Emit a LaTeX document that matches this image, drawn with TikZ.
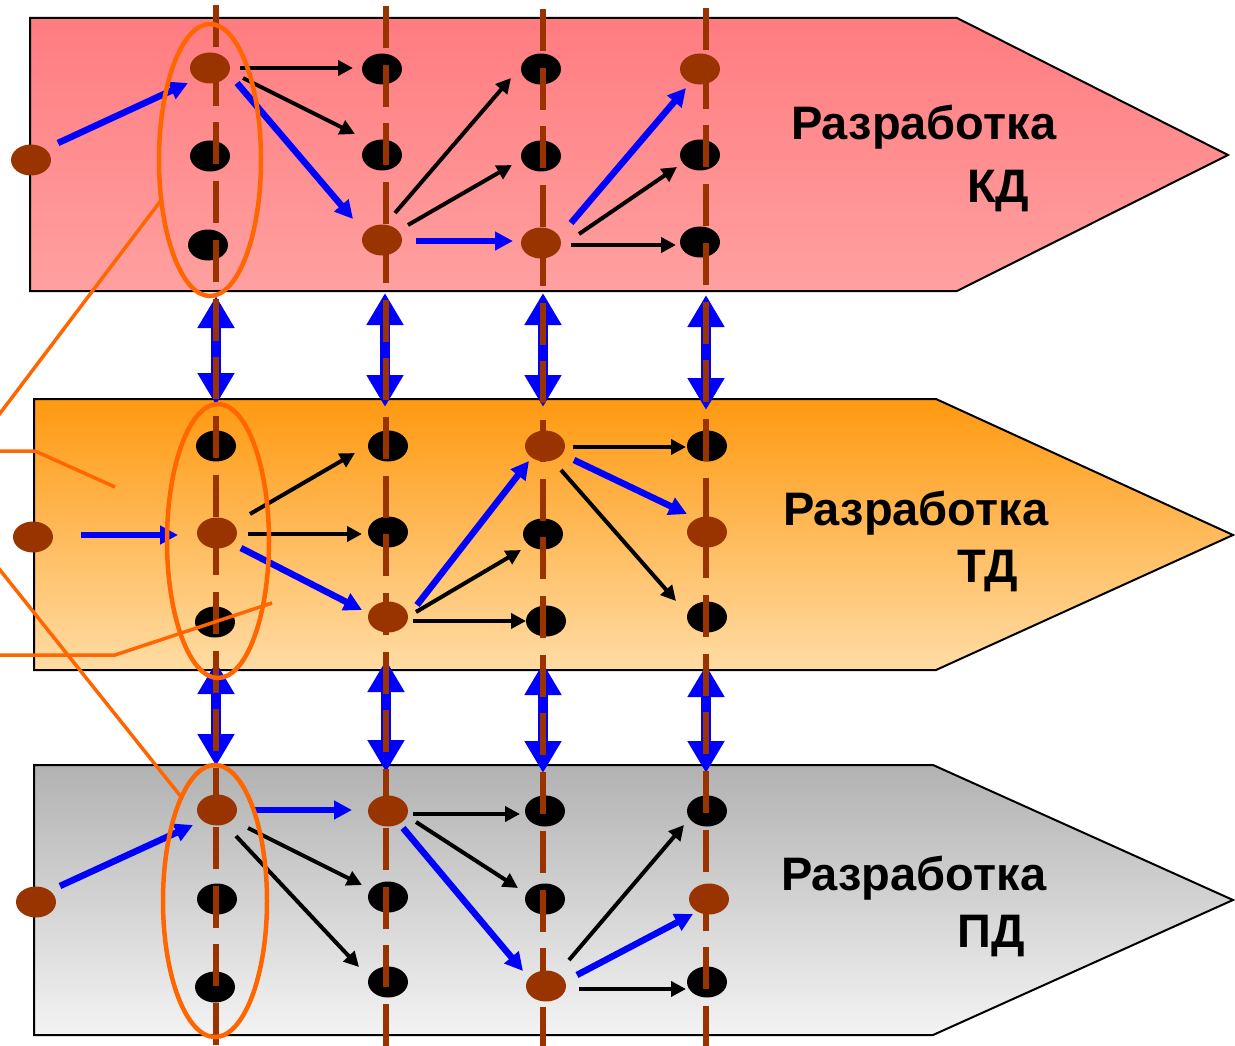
\documentclass[tikz,border=0pt]{standalone}
\usepackage{fontspec}
\setmainfont{Liberation Sans}
\usetikzlibrary{arrows.meta,shapes.geometric}
\definecolor{brn}{HTML}{993300}
\definecolor{org}{HTML}{FF6600}
\definecolor{blu}{HTML}{0000FF}
\newcommand\myconn[5]{\draw[#1] ([shift={(#3)}]#2.center) -- ([shift={(#5)}]#4.center);}
\begin{document}
\begin{tikzpicture}[x=1pt,y=-1pt,
  band/.style={draw=black,line width=2pt},
  kn/.style={ellipse,fill=black,minimum width=40pt,minimum height=31pt,inner sep=0pt},
  bn/.style={kn,fill=brn},
  blk/.style={draw=black,line width=4pt,-{Triangle[length=15pt,width=15pt]}},
  bl/.style={draw=blu,line width=6.5pt,-{Triangle[length=18pt,width=18pt]}},
  dbl/.style={draw=blu,line width=10pt,{Triangle[length=32pt,width=35pt]}-{Triangle[length=32pt,width=35pt]}},
  dl/.style={draw=brn,line width=5.5pt,dash pattern=on 42pt off 16.7pt},
  grp/.style={draw=org,line width=4.5pt},
  co/.style={draw=org,line width=3.5pt},
  lbl/.style={font=\fontsize{47}{50}\selectfont\bfseries,anchor=base west,inner sep=0pt}
]
\useasboundingbox (0,0) rectangle (1235,1046);
\clip (0,0) rectangle (1235,1046);

% bands
\shadedraw[band,top color={rgb,255:red,255;green,124;blue,128},bottom color={rgb,255:red,255;green,160;blue,160}]
  (30,18) -- (957,18) -- (1228,155) -- (957,291) -- (30,291) -- cycle;
\shadedraw[band,top color={rgb,255:red,255;green,153;blue,16},bottom color={rgb,255:red,255;green,220;blue,165}]
  (34,399) -- (936,399) -- (1233,535) -- (936,670) -- (34,670) -- cycle;
\shadedraw[band,top color={rgb,255:red,178;green,178;blue,178},bottom color={rgb,255:red,243;green,243;blue,243}]
  (34,765) -- (933,765) -- (1233,900) -- (933,1035) -- (34,1035) -- cycle;

% labels
\node[lbl] (t1a) at (791,140) {Разработка};
\node[lbl] (t1b) at (967,203) {КД};
\node[lbl] (t2a) at (783,525) {Разработка};
\node[lbl] (t2b) at (957,582) {ТД};
\node[lbl] (t3a) at (781,890) {Разработка};
\node[lbl] (t3b) at (957,947) {ПД};

% black nodes
\node[kn] (p1a2) at (210,156) {};
\node[kn] (p1a3) at (208,245) {};
\node[kn] (p1b1) at (382,69) {};
\node[kn] (p1b2) at (382,155) {};
\node[kn] (p1c1) at (541,69) {};
\node[kn] (p1c2) at (541,156) {};
\node[kn] (p1d2) at (700,155) {};
\node[kn] (p1d3) at (700,242) {};

\node[kn] (p2a1) at (216,446) {};
\node[kn] (p2a3) at (215,622) {};
\node[kn] (p2b1) at (388,446) {};
\node[kn] (p2b2) at (388,532) {};
\node[kn] (p2c2) at (543,534) {};
\node[kn] (p2c3) at (546,621) {};
\node[kn] (p2d1) at (707,446) {};
\node[kn] (p2d3) at (707,617) {};

\node[kn] (p3a2) at (217,899) {};
\node[kn] (p3a3) at (215,987) {};
\node[kn] (p3b2) at (388,897) {};
\node[kn] (p3b3) at (388,982) {};
\node[kn] (p3c1) at (545,811) {};
\node[kn] (p3c2) at (545,899) {};
\node[kn] (p3d1) at (707,811) {};
\node[kn] (p3d3) at (707,982) {};

% double arrows between bands
\coordinate (ua1) at (216,296); \coordinate (la1) at (216,405);
\coordinate (ub1) at (385,293); \coordinate (lb1) at (385,407);
\coordinate (uc1) at (543,293); \coordinate (lc1) at (543,407);
\coordinate (ud1) at (706,295); \coordinate (ld1) at (706,410);
\coordinate (ua2) at (216,662); \coordinate (la2) at (216,766);
\coordinate (ub2) at (386,660); \coordinate (lb2) at (386,772);
\coordinate (uc2) at (543,663); \coordinate (lc2) at (543,773);
\coordinate (ud2) at (706,665); \coordinate (ld2) at (706,773);
\foreach \c in {a,b,c,d}{
  \draw[dbl] (u\c1) -- (l\c1);
  \draw[dbl] (u\c2) -- (l\c2);
}

% dashed column lines
\coordinate (ta) at (216,5);   \coordinate (ba) at (216,1060);
\coordinate (tb) at (386,6);   \coordinate (bb) at (386,1060);
\coordinate (tc) at (543,9);   \coordinate (bc) at (543,1060);
\coordinate (td) at (706,8);   \coordinate (bd) at (706,1060);
\draw[dl] (ta) -- (ba);
\draw[dl] (tb) -- (bb);
\draw[dl] (tc) -- (bc);
\draw[dl] (td) -- (bd);

% brown nodes
\node[bn] (p1l)  at (31,160) {};
\node[bn] (p1a1) at (210,68) {};
\node[bn] (p1b3) at (382,240) {};
\node[bn] (p1c3) at (541,243) {};
\node[bn] (p1d1) at (700,69) {};

\node[bn] (p2l)  at (33,537) {};
\node[bn] (p2a2) at (217,533) {};
\node[bn] (p2b3) at (388,617) {};
\node[bn] (p2c1) at (545,446) {};
\node[bn] (p2d2) at (707,532) {};

\node[bn] (p3l)  at (36,902) {};
\node[bn] (p3a1) at (217,810) {};
\node[bn] (p3b1) at (388,811) {};
\node[bn] (p3c3) at (546,986) {};
\node[bn] (p3d2) at (709,899) {};

% band 1 connectors
\myconn{bl}{p1l}{27,-17}{p1a1}{-22,15}
\myconn{blk}{p1a1}{30,0}{p1b1}{-29,-1}
\myconn{blk}{p1a1}{33,10}{p1b2}{-27,-21}
\myconn{bl}{p1a1}{27,15}{p1b3}{-29,-21}
\myconn{blk}{p1b3}{13,-27}{p1c1}{-30,9}
\myconn{blk}{p1b3}{26,-15}{p1c2}{-29,9}
\myconn{bl}{p1b3}{34,1}{p1c3}{-28,-2}
\myconn{bl}{p1c3}{30,-20}{p1d1}{-14,19}
\myconn{blk}{p1c3}{38,-9}{p1d2}{-23,12}
\myconn{blk}{p1c3}{30,2}{p1d3}{-24,3}

% band 2 connectors
\myconn{bl}{p2l}{48,-2}{p2a2}{-39,2}
\myconn{blk}{p2a2}{33,-19}{p2b1}{-33,7}
\myconn{blk}{p2a2}{31,1}{p2b2}{-26,2}
\myconn{bl}{p2a2}{24,15}{p2b3}{-26,-7}
\myconn{bl}{p2b3}{29,-12}{p2c1}{-16,15}
\myconn{blk}{p2b3}{28,-5}{p2c2}{-22,16}
\myconn{blk}{p2b3}{25,4}{p2c3}{-20,0}
\myconn{blk}{p2c1}{28,1}{p2d1}{-21,1}
\myconn{bl}{p2c1}{29,14}{p2d2}{-20,-18}
\myconn{blk}{p2c1}{16,24}{p2d3}{-31,-16}

% band 3 connectors
\myconn{bl}{p3l}{24,-16}{p3a1}{-24,15}
\myconn{bl}{p3a1}{36,0}{p3b1}{-36,-1}
\myconn{blk}{p3a1}{31,18}{p3b2}{-26,-12}
\myconn{blk}{p3a1}{19,26}{p3b3}{-29,-15}
\myconn{blk}{p3b1}{25,3}{p3c1}{-25,3}
\myconn{blk}{p3b1}{28,11}{p3c2}{-27,-11}
\myconn{bl}{p3b1}{15,17}{p3c3}{-23,-15}
\myconn{blk}{p3c3}{23,-26}{p3d1}{-23,14}
\myconn{bl}{p3c3}{31,-11}{p3d2}{-16,15}
\myconn{blk}{p3c3}{33,3}{p3d3}{-21,7}

% orange group ellipses
\draw[grp] (210,160) ellipse [x radius=51, y radius=136];
\draw[grp] (218,541) ellipse [x radius=51, y radius=137];
\draw[grp] (215,901) ellipse [x radius=52, y radius=136];

% orange callout lines
\coordinate (c1s) at (-8,424); \coordinate (c1e) at (162,199);
\draw[co] (c1s) -- (c1e);
\coordinate (c2s) at (-8,451); \coordinate (c2e) at (115,487);
\draw[co] (c2s) -- (35,451) -- (c2e);
\coordinate (c3s) at (-8,655); \coordinate (c3e) at (272,603);
\draw[co] (c3s) -- (115,655) -- (c3e);
\coordinate (c4s) at (-8,560); \coordinate (c4e) at (182,798);
\draw[co] (c4s) -- (c4e);
\end{tikzpicture}
\end{document}
